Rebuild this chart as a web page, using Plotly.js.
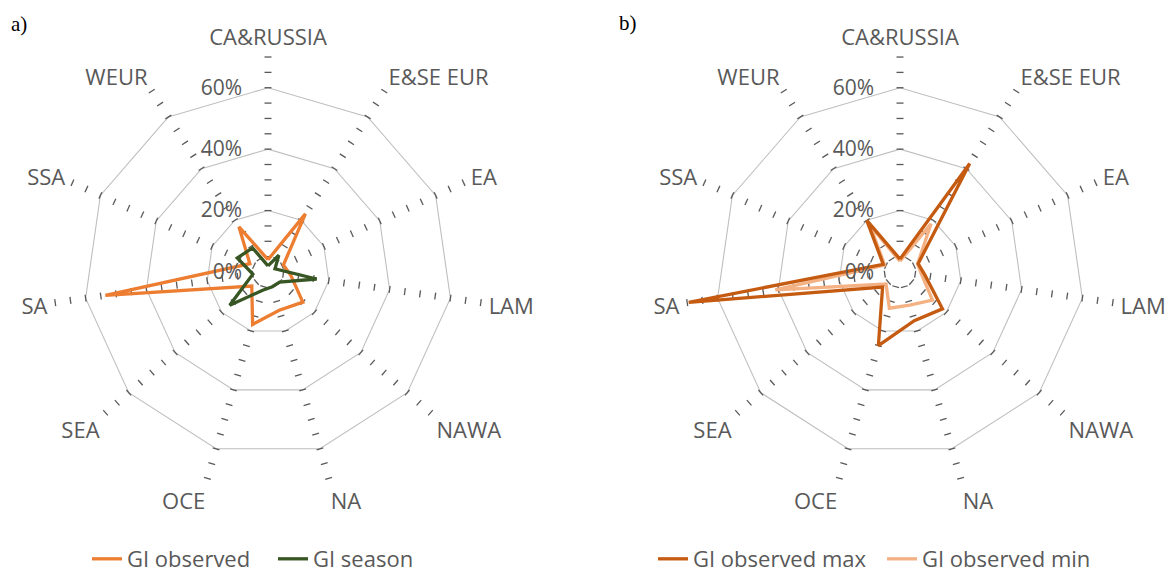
<!DOCTYPE html>
<html>
<head>
<meta charset="utf-8">
<script src="https://cdn.plot.ly/plotly-3.0.1.min.js"></script>
<style>html,body{margin:0;padding:0;background:#fff;}#chart{width:1175px;height:573px;}</style>
</head>
<body>
<div id="chart"></div>
<script>
// ---- data ----
const categories = ['CA&RUSSIA','E&SE EUR','EA','LAM','NAWA','NA','OCE','SEA','SA','SSA','WEUR'];
const giObserved = [0.04, 0.225, 0.055, 0.075, 0.15, 0.13, 0.178, 0.07, 0.535, 0.065, 0.175];
const giSeason   = [0.02, 0.065, 0.025, 0.16, 0.05, 0.05, 0.062, 0.165, 0.05, 0.11, 0.093];
const giObsMax   = [0.042, 0.42, 0.065, 0.083, 0.183, 0.165, 0.25, 0.075, 0.695, 0.06, 0.20];
const giObsMin   = [0.035, 0.187, 0.063, 0.072, 0.14, 0.112, 0.123, 0.06, 0.41, 0.055, 0.18];
const radialTickVals = [0, 0.2, 0.4, 0.6];
const radialTickText = ['0%', '20%', '40%', '60%'];
const spokeTicks = [0.05,0.10,0.15,0.20,0.25,0.30,0.35,0.40,0.45,0.50,0.55,0.60,0.65,0.70];

const grey = '#595959';
const font = 'Open Sans, Liberation Sans, sans-serif';

function closed(arr){ return arr.concat([arr[0]]); }

function tickTrace(subplot){
  const r = [], th = [], ang = [];
  categories.forEach((c, i) => {
    spokeTicks.forEach(v => { r.push(v); th.push(c); ang.push(i * 360 / categories.length); });
  });
  return {
    type: 'scatterpolar', subplot: subplot, mode: 'markers', r: r, theta: th,
    marker: {symbol: 'line-ew', size: 5, angle: ang, color: grey, line: {color: grey, width: 1.3}},
    showlegend: false, hoverinfo: 'skip'
  };
}

function series(subplot, vals, name, color, legend, rank){
  return {
    type: 'scatterpolar', subplot: subplot, mode: 'lines',
    r: closed(vals), theta: closed(categories), name: name,
    line: {color: color, width: 3.3}, legend: legend, legendrank: rank,
    hoverinfo: 'skip'
  };
}

const traces = [
  tickTrace('polar'),
  series('polar', giObserved, 'GI observed', '#ED7D31', 'legend', 1),
  series('polar', giSeason, 'GI season', '#375623', 'legend', 2),
  tickTrace('polar2'),
  series('polar2', giObsMin, 'GI observed min', '#F4B183', 'legend2', 2),
  series('polar2', giObsMax, 'GI observed max', '#C55A11', 'legend2', 1)
];

function polarCfg(x0, x1){
  return {
    domain: {x: [x0, x1], y: [0.1501, 0.9005]},
    bgcolor: 'rgba(0,0,0,0)',
    gridshape: 'linear',
    radialaxis: {
      range: [0, 0.7], tickvals: radialTickVals, ticktext: radialTickText,
      angle: 90, tickangle: 90, side: 'counterclockwise',
      showline: false, gridcolor: '#bfbfbf', gridwidth: 1.1,
      ticks: 'outside', ticklen: 18, tickcolor: 'rgba(0,0,0,0)',
      tickfont: {family: font, size: 21, color: grey}
    },
    angularaxis: {
      type: 'category', categoryarray: categories,
      direction: 'clockwise', rotation: 90,
      showgrid: false, showline: false,
      ticks: 'outside', ticklen: 3, tickcolor: 'rgba(0,0,0,0)',
      tickfont: {family: font, size: 22, color: grey}
    }
  };
}

const legendCfg = (x, w) => ({
  orientation: 'h', x: x, xanchor: 'left', y: 0.0244, yanchor: 'middle',
  entrywidth: w, entrywidthmode: 'pixels',
  font: {family: font, size: 22, color: grey}, bgcolor: 'rgba(0,0,0,0)', traceorder: 'normal'
});

const layout = {
  width: 1175, height: 573,
  margin: {l: 0, r: 0, t: 0, b: 0, autoexpand: false},
  paper_bgcolor: '#fff',
  polar: polarCfg(0.0451, 0.4111),
  polar2: polarCfg(0.5830, 0.9489),
  legend: legendCfg(87/1175, 141),
  legend2: legendCfg(653/1175, 184),
  annotations: [
    {text: 'a)', x: 9/1175, y: 1 - 24/573, xref: 'paper', yref: 'paper', xanchor: 'left', yanchor: 'middle',
     showarrow: false, font: {family: 'Liberation Serif, Times New Roman, serif', size: 21, color: '#000'}},
    {text: 'b)', x: 617/1175, y: 1 - 23/573, xref: 'paper', yref: 'paper', xanchor: 'left', yanchor: 'middle',
     showarrow: false, font: {family: 'Liberation Serif, Times New Roman, serif', size: 21, color: '#000'}}
  ]
};

Plotly.newPlot('chart', traces, layout, {staticPlot: true, displayModeBar: false});
</script>
</body>
</html>
